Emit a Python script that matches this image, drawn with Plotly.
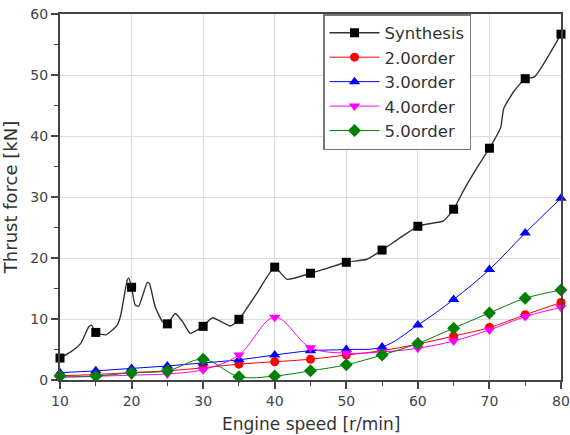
import plotly.graph_objects as go

# ---- data ----
speeds = [10, 15, 20, 25, 30, 35, 40, 45, 50, 55, 60, 65, 70, 75, 80]
synthesis = [3.6, 7.8, 15.2, 9.2, 8.8, 9.95, 18.5, 17.5, 19.3, 21.3, 25.2, 28.0, 38.0, 49.4, 56.7]
order2 = [0.7, 0.9, 1.2, 1.5, 2.0, 2.6, 3.0, 3.4, 4.1, 4.8, 5.9, 7.2, 8.6, 10.7, 12.7]
order3 = [1.2, 1.5, 1.9, 2.3, 2.8, 3.3, 4.1, 4.8, 5.0, 5.4, 9.0, 13.2, 18.1, 24.1, 29.8]
order4 = [0.4, 0.6, 0.8, 1.0, 1.7, 4.1, 10.3, 5.3, 4.4, 4.6, 5.2, 6.4, 8.2, 10.4, 11.9]
order5 = [0.65, 0.65, 1.2, 1.5, 3.4, 0.55, 0.65, 1.5, 2.5, 4.1, 6.0, 8.5, 11.0, 13.4, 14.75]

# continuous synthesis curve
syn_curve_x = [10, 11.5, 12.9, 14.0, 14.4, 15, 16.4, 18.0, 18.5, 19.4, 19.6, 20, 20.5, 21.0,
               22.2, 22.5, 23.3, 24.3, 25, 26.1, 27.1, 28.2, 29.2, 30, 31.3, 33.8, 35, 37.5,
               40, 41.7, 45, 47.3, 50, 52.9, 55, 57.5, 60, 62, 63.6, 65, 66.4, 67.8, 69.4,
               70, 71.3, 71.6, 72.0, 73.4, 75, 76.3, 80]
syn_curve_y = [3.6, 4.6, 6.0, 8.7, 9.0, 7.8, 7.4, 9.0, 10.7, 16.4, 16.7, 15.2, 12.3, 12.1,
               16.0, 15.8, 12.0, 9.6, 9.2, 10.9, 9.6, 7.65, 8.2, 8.8, 10.2, 8.85, 9.95, 14.2,
               18.5, 16.5, 17.5, 18.3, 19.3, 19.8, 21.3, 23.3, 25.2, 25.7, 26.1, 28.0, 31.1,
               33.9, 36.9, 38.0, 40.7, 41.5, 44.5, 47.3, 49.4, 49.7, 56.7]

x_title = "Engine speed [r/min]"
y_title = "Thrust force [kN]"

names = ["2.0order", "3.0order", "4.0order", "5.0order"]
series = [order2, order3, order4, order5]
colors = ["#FF0000", "#0000FF", "#FF00FF", "#008000"]
symbols = ["circle", "triangle-up", "triangle-down", "diamond"]
msizes = [9, 10, 10, 10]

FONT = "DejaVu Sans, Liberation Sans, Arial"

fig = go.Figure()

# synthesis: curve + markers, legend entry separate
fig.add_trace(go.Scatter(x=syn_curve_x, y=syn_curve_y, mode="lines",
                         line=dict(color="#333333", width=1.4, shape="spline", smoothing=0.5),
                         showlegend=False, legendgroup="syn", cliponaxis=False, hoverinfo="skip"))
fig.add_trace(go.Scatter(x=speeds, y=synthesis, mode="markers",
                         marker=dict(symbol="square", size=9, color="black"),
                         showlegend=False, legendgroup="syn", cliponaxis=False))
fig.add_trace(go.Scatter(x=[None], y=[None], mode="lines+markers", name="Synthesis",
                         legendgroup="syn",
                         line=dict(color="#333333", width=1.4),
                         marker=dict(symbol="square", size=9, color="black")))

for n, s, c, sym, ms in zip(names, series, colors, symbols, msizes):
    fig.add_trace(go.Scatter(x=speeds, y=s, mode="lines+markers", name=n,
                             line=dict(color=c, width=1, shape="spline", smoothing=1.0),
                             marker=dict(symbol=sym, size=ms, color=c),
                             cliponaxis=False))

axis_common = dict(
    showline=True, linewidth=2, linecolor="#444444", mirror=True,
    ticks="outside", ticklen=7, tickwidth=1.5, tickcolor="#444444",
    showgrid=True, gridcolor="#dddddd", gridwidth=1,
    zeroline=False,
    tickfont=dict(family=FONT, size=14, color="#444444"),
)

fig.update_xaxes(range=[10, 80], tick0=10, dtick=10,
                 minor=dict(dtick=5, ticks="outside", ticklen=4, tickcolor="#444444", tickwidth=1.2, showgrid=False),
                 **axis_common)
fig.update_yaxes(range=[0, 60], tick0=0, dtick=10,
                 minor=dict(dtick=5, ticks="outside", ticklen=4, tickcolor="#444444", tickwidth=1.2, showgrid=False),
                 title=dict(text=y_title, font=dict(family=FONT, size=18, color="#333333"), standoff=12),
                 **axis_common)

fig.add_annotation(text=x_title, xref="paper", yref="paper", x=0.5, y=-0.121,
                   xanchor="center", yanchor="middle", showarrow=False,
                   font=dict(family=FONT, size=17, color="#333333"))

fig.update_layout(
    width=570, height=435,
    margin=dict(l=60, r=9, t=14, b=55, autoexpand=False),
    paper_bgcolor="white", plot_bgcolor="white",
    font=dict(family=FONT, color="#333333"),
    legend=dict(x=0.525, y=1.0, xanchor="left", yanchor="top",
                bgcolor="white", bordercolor="#777777", borderwidth=1.5,
                font=dict(family=FONT, size=16.5, color="#333333"),
                tracegroupgap=0, itemwidth=50),
)

fig.write_html("out.html")
